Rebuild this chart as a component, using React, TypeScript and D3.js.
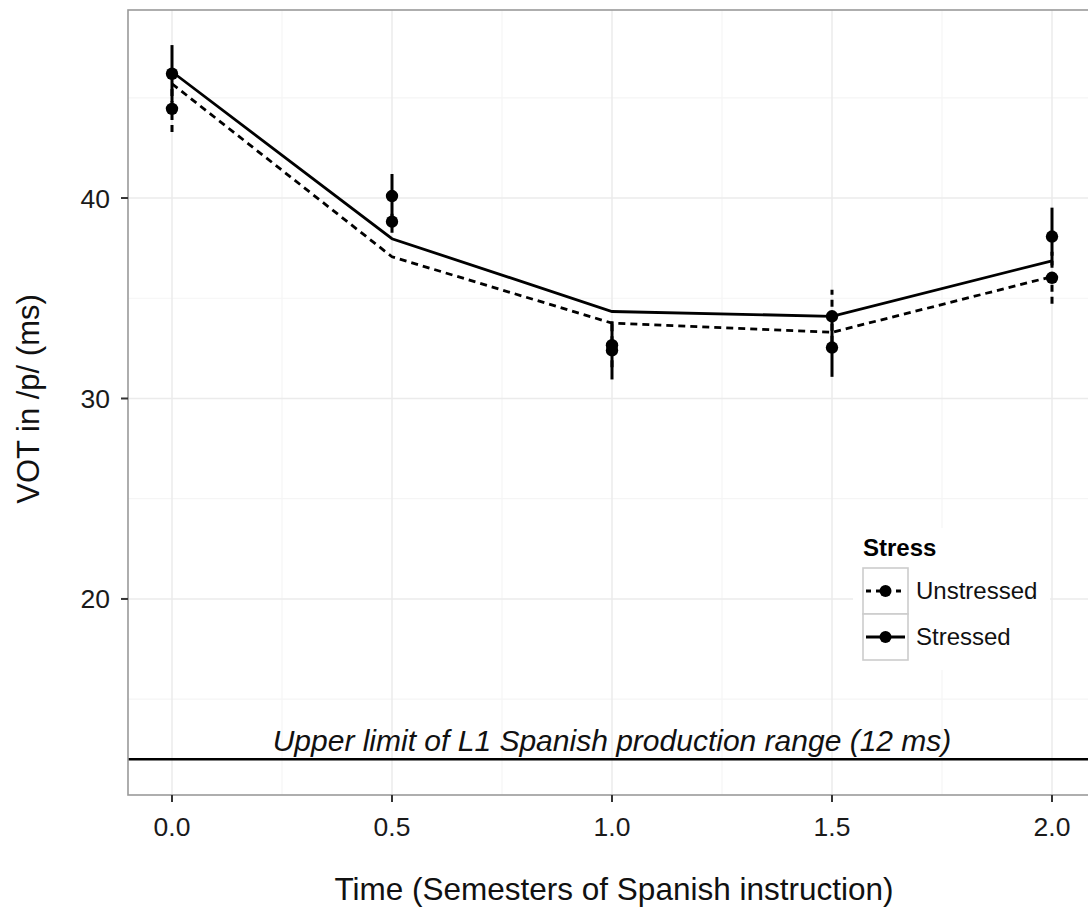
import React from "react";
import * as d3 from "d3";

// ---- data ----
const times = [0, 0.5, 1, 1.5, 2];
const xTicks = [0, 0.5, 1, 1.5, 2];
const xTickLabels = ["0.0", "0.5", "1.0", "1.5", "2.0"];
const yTicks = [20, 30, 40];
const yTickLabels = ["20", "30", "40"];

const unstressedFit = [45.7, 37.07, 33.76, 33.3, 36.08];
const stressedFit = [46.3, 37.97, 34.34, 34.1, 36.87];

const unstressedMean = [44.45, 38.82, 32.66, 34.1, 36.02];
const unstressedSE = [1.15, 0.55, 1.1, 1.32, 1.3];
const stressedMean = [46.2, 40.1, 32.4, 32.54, 38.08];
const stressedSE = [1.43, 1.1, 1.45, 1.46, 1.44];

const seriesNames = ["Unstressed", "Stressed"];
const limitValue = 12;
const limitLabel = "Upper limit of L1 Spanish production range (12 ms)";
const xTitle = "Time (Semesters of Spanish instruction)";
const yTitle = "VOT in /p/ (ms)";
const legendTitle = "Stress";

const W = 1088;
const H = 909;
const FONT = "'Liberation Sans', Arial, Helvetica, sans-serif";

export default function App() {
  const left = 128, right = 1096, top = 10, bottom = 795;
  const x = d3.scaleLinear().domain([-0.1, 2.1]).range([left, right]);
  const y = d3.scaleLinear().domain([10.22, 49.38]).range([bottom, top]);

  const xMinor = [0.25, 0.75, 1.25, 1.75];
  const yMinor = [15, 25, 35, 45];

  const line = d3
    .line<number>()
    .x((_, i) => x(times[i]))
    .y((d) => y(d));

  const series = [
    { name: seriesNames[0], fit: unstressedFit, mean: unstressedMean, se: unstressedSE, dash: "7,5" },
    { name: seriesNames[1], fit: stressedFit, mean: stressedMean, se: stressedSE, dash: undefined as string | undefined },
  ];

  const legX = 853, legY = 528;
  const keyX = 863, keyW = 45, rowH = 46, rowY0 = 568;

  return (
    <svg
      width={W}
      height={H}
      style={{ position: "absolute", left: 0, top: 0, display: "block", background: "#fff" }}
      fontFamily={FONT}
    >
      <defs>
        <clipPath id="panel">
          <rect x={left} y={top} width={right - left} height={bottom - top} />
        </clipPath>
      </defs>
      <rect x={0} y={0} width={W} height={H} fill="#fff" />
      {/* grid */}
      <g clipPath="url(#panel)">
        {xMinor.map((v) => (
          <line key={"xm" + v} x1={x(v)} x2={x(v)} y1={top} y2={bottom} stroke="#f5f5f5" strokeWidth={1.2} />
        ))}
        {yMinor.map((v) => (
          <line key={"ym" + v} x1={left} x2={right} y1={y(v)} y2={y(v)} stroke="#f5f5f5" strokeWidth={1.2} />
        ))}
        {xTicks.map((v) => (
          <line key={"xg" + v} x1={x(v)} x2={x(v)} y1={top} y2={bottom} stroke="#ebebeb" strokeWidth={1.5} />
        ))}
        {yTicks.map((v) => (
          <line key={"yg" + v} x1={left} x2={right} y1={y(v)} y2={y(v)} stroke="#ebebeb" strokeWidth={1.5} />
        ))}

        {/* limit line */}
        <line x1={left} x2={right} y1={y(limitValue)} y2={y(limitValue)} stroke="#000" strokeWidth={2.6} />
        <text
          x={x(1)}
          y={y(limitValue) - 8}
          textAnchor="middle"
          fontSize={30}
          fontStyle="italic"
          fill="#111"
        >
          {limitLabel}
        </text>

        {/* series */}
        {series.map((s) => (
          <g key={s.name}>
            <path d={line(s.fit) || ""} fill="none" stroke="#000" strokeWidth={2.8} strokeDasharray={s.dash} />
            {times.map((t, i) => (
              <line
                key={"e" + i}
                x1={x(t)}
                x2={x(t)}
                y1={y(s.mean[i] - s.se[i])}
                y2={y(s.mean[i] + s.se[i])}
                stroke="#000"
                strokeWidth={3}
                strokeDasharray={s.dash}
              />
            ))}
            {times.map((t, i) => (
              <circle key={"p" + i} cx={x(t)} cy={y(s.mean[i])} r={6.2} fill="#000" />
            ))}
          </g>
        ))}

        {/* legend */}
        <rect x={legX} y={legY} width={197} height={142} fill="#fff" />
        <text x={keyX} y={556} fontSize={24} fontWeight="bold" fill="#000">
          {legendTitle}
        </text>
        {series.map((s, i) => {
          const ry = rowY0 + i * rowH;
          const cy = ry + rowH / 2;
          return (
            <g key={"leg" + s.name}>
              <rect x={keyX} y={ry} width={keyW} height={rowH} fill="#fff" stroke="#cccccc" strokeWidth={1.6} />
              <line
                x1={keyX + 3}
                x2={keyX + keyW - 3}
                y1={cy}
                y2={cy}
                stroke="#000"
                strokeWidth={2.8}
                strokeDasharray={s.dash ? "5,5" : undefined}
              />
              <circle cx={keyX + keyW / 2} cy={cy} r={6} fill="#000" />
              <text x={916} y={cy} dy="0.35em" fontSize={24} fill="#111">
                {s.name}
              </text>
            </g>
          );
        })}
      </g>

      {/* panel border */}
      <rect x={left} y={top} width={right - left} height={bottom - top} fill="none" stroke="#9a9a9a" strokeWidth={1.6} />

      {/* x axis */}
      {xTicks.map((v, i) => (
        <g key={"xt" + v}>
          <line x1={x(v)} x2={x(v)} y1={bottom} y2={bottom + 7} stroke="#333" strokeWidth={2} />
          <text x={x(v)} y={836} textAnchor="middle" fontSize={26.5} fill="#1a1a1a">
            {xTickLabels[i]}
          </text>
        </g>
      ))}
      {/* y axis */}
      {yTicks.map((v, i) => (
        <g key={"yt" + v}>
          <line x1={left - 7} x2={left} y1={y(v)} y2={y(v)} stroke="#333" strokeWidth={2} />
          <text x={110} y={y(v)} dy="0.36em" textAnchor="end" fontSize={26.5} fill="#1a1a1a">
            {yTickLabels[i]}
          </text>
        </g>
      ))}

      <text x={(left + right) / 2 + 2} y={900} textAnchor="middle" fontSize={31.5} fill="#111">
        {xTitle}
      </text>
      <text
        transform={`translate(39, 399) rotate(-90)`}
        textAnchor="middle"
        fontSize={31}
        fill="#111"
      >
        {yTitle}
      </text>
    </svg>
  );
}
